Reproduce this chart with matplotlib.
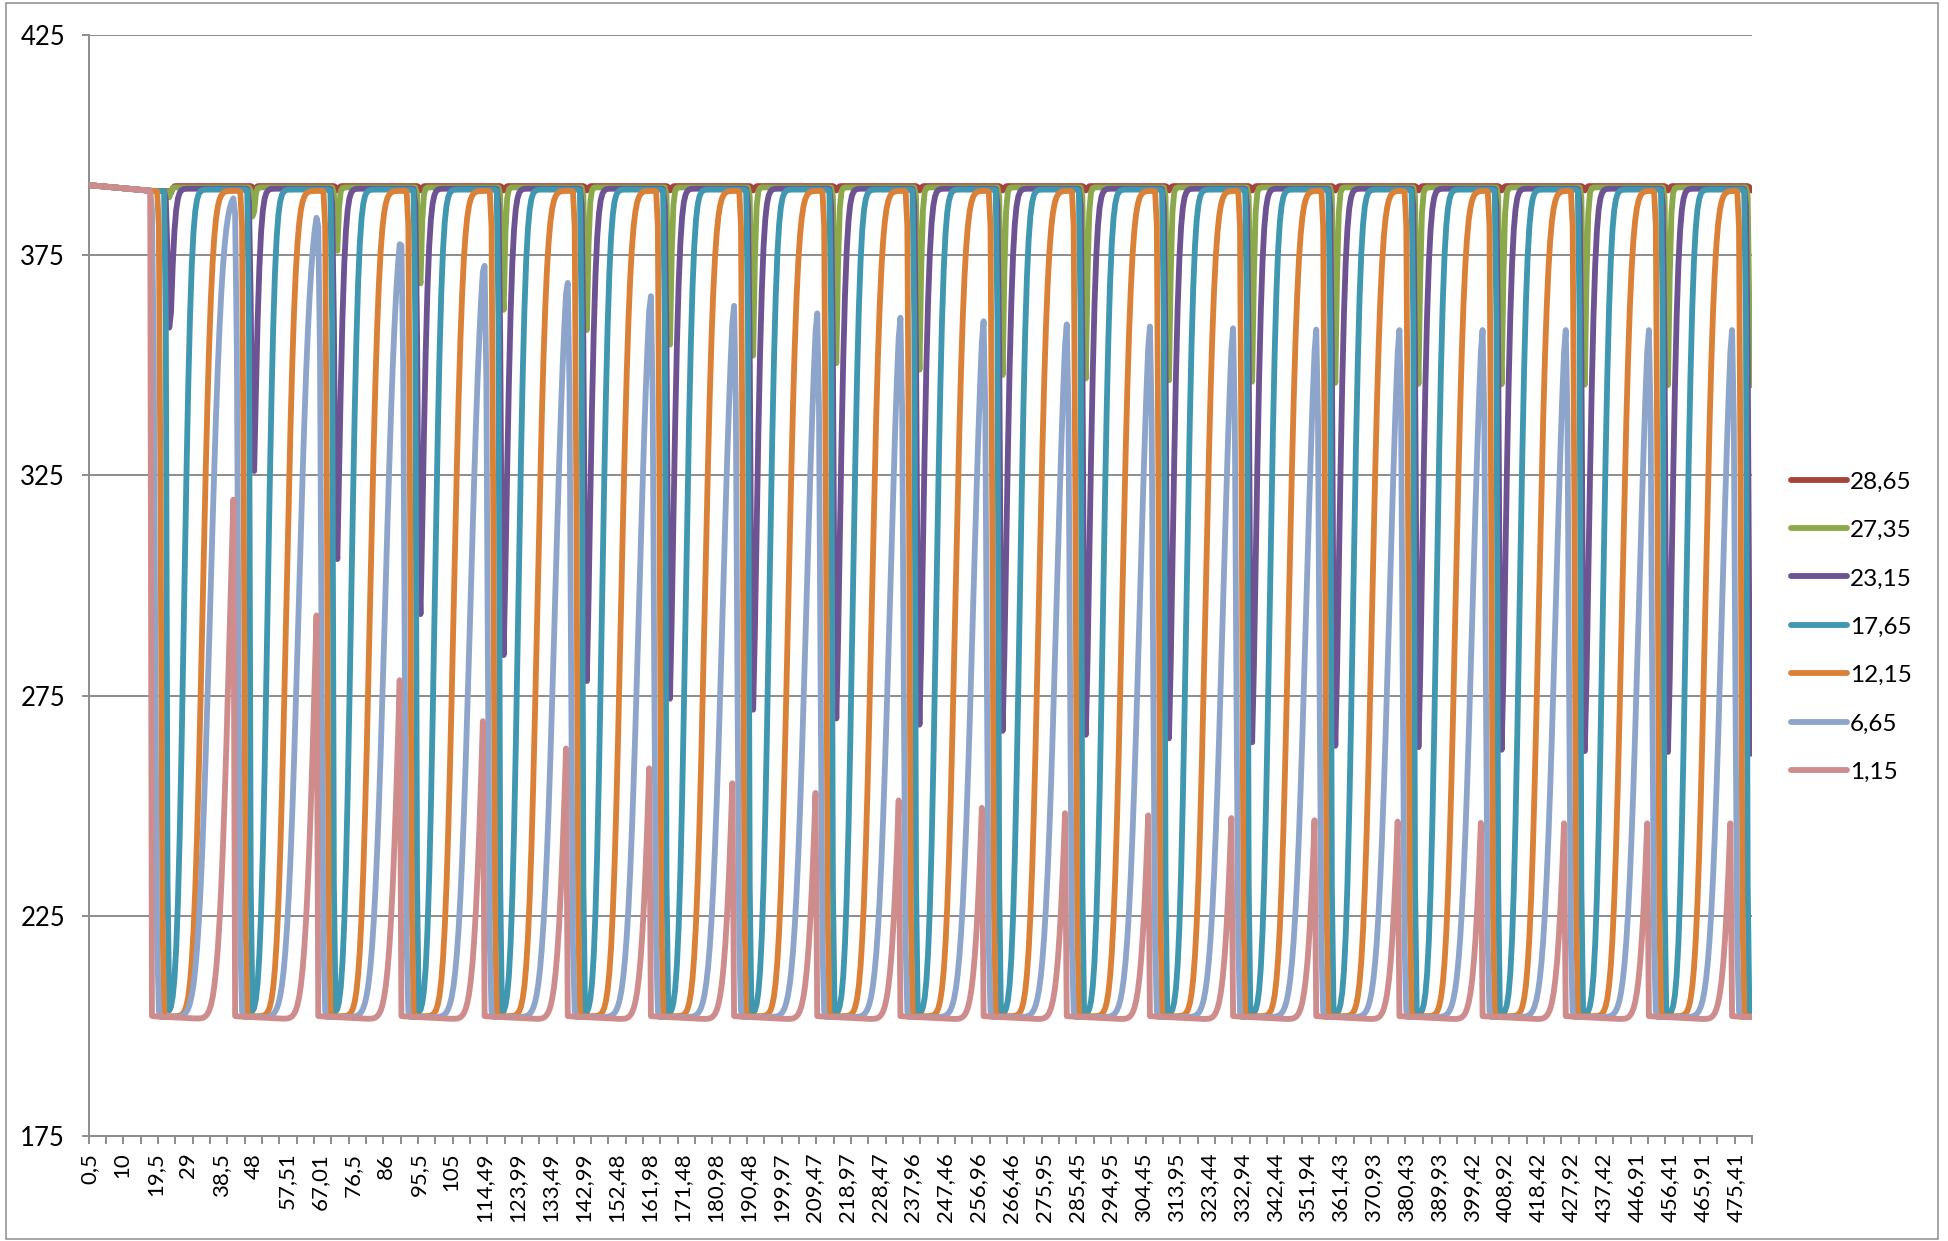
import math
import numpy as np
import matplotlib
matplotlib.use("Agg")
import matplotlib.pyplot as plt
from matplotlib.lines import Line2D
from matplotlib.patches import Rectangle

plt.rcParams['font.family'] = ['Lato', 'DejaVu Sans']

W, H = 1948, 1241

# ---------------- sampling / cycle layout ----------------
n_points = 960          # samples along the category axis
first_cycle = 36        # sample index of the first cold blow
cycle_len = 48          # samples per cycle
n_cycles = 20

x_labels = ["0,5", "10", "19,5", "29", "38,5", "48", "57,51", "67,01", "76,5", "86",
            "95,5", "105", "114,49", "123,99", "133,49", "142,99", "152,48", "161,98",
            "171,48", "180,98", "190,48", "199,97", "209,47", "218,97", "228,47",
            "237,96", "247,46", "256,96", "266,46", "275,95", "285,45", "294,95",
            "304,45", "313,95", "323,44", "332,94", "342,44", "351,94", "361,43",
            "370,93", "380,43", "389,93", "399,42", "408,92", "418,42", "427,92",
            "437,42", "446,91", "456,41", "465,91", "475,41"]
label_every = 19
tick_every = 10

series_names = ["28,65", "27,35", "23,15", "17,65", "12,15", "6,65", "1,15"]
colors = ["#A8423F", "#8BA84A", "#6E5393", "#3F97B0", "#DA8137", "#8EA5CB", "#CE8D8C"]

# starting values before the first cold blow
start_value = 390.9
start_value_end = 389.6

# per-cycle extremes
peaks_1_15 = [319.5, 293.2, 278.5, 269.2, 263.0, 258.5, 255.1, 252.9, 251.2, 249.5,
              248.3, 247.8, 247.2, 246.7, 246.4, 246.1, 246.0, 246.0, 246.0]
peaks_6_65 = [387.9, 383.5, 377.5, 372.6, 368.7, 365.7, 363.5, 361.8, 360.8, 360.0,
              359.3, 358.8, 358.4, 358.1, 358.0, 358.0, 358.0, 358.0, 358.0]
dips_23_15 = [358.7, 326.0, 306.0, 293.5, 284.2, 278.3, 274.3, 271.8, 269.8, 268.4,
              267.0, 266.1, 265.3, 264.4, 263.6, 263.3, 262.7, 262.4, 262.2, 261.8]
dips_27_35 = [388.7, 383.8, 376.0, 368.6, 362.6, 358.0, 354.7, 352.2, 350.5, 349.0,
              347.8, 347.0, 346.6, 346.3, 346.0, 345.8, 345.7, 345.6, 345.5, 345.5]
dips_28_65 = [389.8, 389.8, 389.7, 389.7, 389.7, 389.7, 389.7, 389.7, 389.7, 389.7,
              389.7, 389.7, 389.7, 389.7, 389.7, 389.7, 389.7, 389.7, 389.7, 389.7]
# reheating times (samples after the cycle start) of the middle positions
rise_17_65 = [18.6, 18.8, 19.0, 19.2, 19.5, 19.8, 20.1, 20.3, 20.5, 20.7,
              20.9, 21.0, 21.1, 21.2, 21.3, 21.4, 21.4, 21.5, 21.5, 21.5]
rise_12_15 = [29.3, 29.6, 29.9, 30.2, 30.5, 30.8, 31.1, 31.3, 31.5, 31.7,
              31.9, 32.0, 32.1, 32.2, 32.3, 32.4, 32.5, 32.5, 32.6, 32.6]

# front parameters per position: cold-front delay, cold-front spread,
# hot-front spread, cold level, hot level, drift of the cold level
params = {
    "28,65": dict(d=11.2, sd=0.6, s=1.6, lo=202.3, hi=390.7, drift=0.0),
    "27,35": dict(d=10.3, sd=0.6, s=1.6, lo=202.3, hi=390.4, drift=0.0),
    "23,15": dict(d=9.6, sd=0.8, s=3.2, lo=202.3, hi=390.1, drift=0.0),
    "17,65": dict(d=8.5, sd=0.5, s=3.3, lo=202.4, hi=389.9, drift=0.0),
    "12,15": dict(d=5.2, sd=0.7, s=4.2, lo=202.2, hi=389.6, drift=0.0),
    "6,65":  dict(d=1.8, sd=0.9, s=5.5, lo=202.0, hi=389.5, drift=0.0),
    "1,15":  dict(d=-0.5, sd=0.15, s=5.3, lo=202.2, hi=389.5, drift=-1.0),
}

_erf = np.vectorize(math.erf)


def phi(z):
    return 0.5 * (1.0 + _erf(np.asarray(z, dtype=float) / math.sqrt(2.0)))


def solve(fn, target, a=-40.0, b=100.0):
    # fn decreases with m
    for _ in range(70):
        mid = 0.5 * (a + b)
        if fn(mid) > target:
            a = mid
        else:
            b = mid
    return 0.5 * (a + b)


def peak_times(p, peaks):
    rel = np.arange(15, 60)
    lo = p["lo"] + p["drift"] * np.clip(rel / cycle_len, 0, 1)

    def top(m):
        g = phi((rel - m) / p["s"]) * (1 - phi((rel - cycle_len - p["d"]) / p["sd"]))
        return np.max(lo + (p["hi"] - lo) * g)
    ms = [solve(top, v) for v in peaks]
    return ms + [ms[-1]] * (n_cycles - len(ms))


def dip_times(p, dips):
    rel = np.arange(int(p["d"]) - 5, int(p["d"]) + 12)

    def bottom(m):
        c = phi((rel - p["d"]) / p["sd"])
        g = (1 - c) + c * phi((rel - m) / p["s"])
        return np.min(p["lo"] + (p["hi"] - p["lo"]) * g)
    return [solve(bottom, v) for v in dips]


def build(p, rise):
    i = np.arange(n_points, dtype=float)
    starts = first_cycle + cycle_len * np.arange(n_cycles + 1)
    cold = [phi((i - c - p["d"]) / p["sd"]) for c in starts]
    phase = np.where(i >= first_cycle, ((i - first_cycle) % cycle_len) / cycle_len, 0.0)
    lo = p["lo"] + p["drift"] * phase
    init = np.interp(i, [0, first_cycle], [start_value, start_value_end])
    y = (1 - cold[0]) * init
    for k in range(n_cycles):
        hot = phi((i - starts[k] - rise[k]) / p["s"])
        y = y + (cold[k] - cold[k + 1]) * (lo + (p["hi"] - lo) * hot)
    return y


rise_times = {
    "28,65": dip_times(params["28,65"], dips_28_65),
    "27,35": dip_times(params["27,35"], dips_27_35),
    "23,15": dip_times(params["23,15"], dips_23_15),
    "17,65": rise_17_65,
    "12,15": rise_12_15,
    "6,65": peak_times(params["6,65"], peaks_6_65),
    "1,15": peak_times(params["1,15"], peaks_1_15),
}

# ---------------- figure ----------------
fig = plt.figure(figsize=(W / 100, H / 100), dpi=100)
fig.patch.set_facecolor("white")
fig.add_artist(Rectangle((6 / W, 2 / H), (1938 - 6) / W, (H - 5) / H,
                         transform=fig.transFigure, fill=False,
                         edgecolor="#8C8C8C", lw=1.1))

left, right, top, bottom = 88.7, 1752, 35, 1136
ax = fig.add_axes([left / W, 1 - bottom / H, (right - left) / W, (bottom - top) / H])

x = np.arange(n_points)
lw = 4.2
for z, (name, col) in enumerate(zip(series_names, colors)):
    y = build(params[name], rise_times[name])
    ax.plot(x, y, color=col, lw=lw, solid_capstyle="round",
            solid_joinstyle="round", zorder=3 + z)

grey = "#8C8C8C"
ax.set_xlim(-0.5, n_points - 0.5)
ax.set_ylim(175, 425)
ax.set_yticks([175, 225, 275, 325, 375, 425])
ax.yaxis.grid(True, color=grey, lw=1.4)
ax.set_axisbelow(True)
for sp in ("top", "right"):
    ax.spines[sp].set_visible(False)
for sp in ("left", "bottom"):
    ax.spines[sp].set_color(grey)
    ax.spines[sp].set_linewidth(1.4)

ax.set_xticks(np.arange(len(x_labels)) * label_every)
ax.set_xticklabels(x_labels, rotation=90)
ax.set_xticks(np.arange(-0.5, n_points, tick_every), minor=True)
ax.tick_params(axis="x", which="major", length=0, pad=12, labelsize=16, colors="black")
ax.tick_params(axis="x", which="minor", length=6, width=1.4, color=grey, direction="out")
ax.tick_params(axis="y", which="major", length=5, width=1.4, color=grey, pad=12,
               labelsize=18.5, labelcolor="black")

# legend
leg_x0, leg_x1, leg_tx = 1790.7, 1847.0, 1850.0
leg_y0, leg_dy = 479.5, 48.45
for j, (name, col) in enumerate(zip(series_names, colors)):
    yy = leg_y0 + j * leg_dy
    fig.add_artist(Line2D([leg_x0 / W, leg_x1 / W], [1 - yy / H, 1 - yy / H],
                          transform=fig.transFigure, color=col, lw=lw,
                          solid_capstyle="round"))
    fig.text(leg_tx / W, 1 - (yy + 9) / H, name, fontsize=17.5, va="baseline",
             ha="left", color="black")

fig.savefig("out.png", dpi=100, facecolor="white")
